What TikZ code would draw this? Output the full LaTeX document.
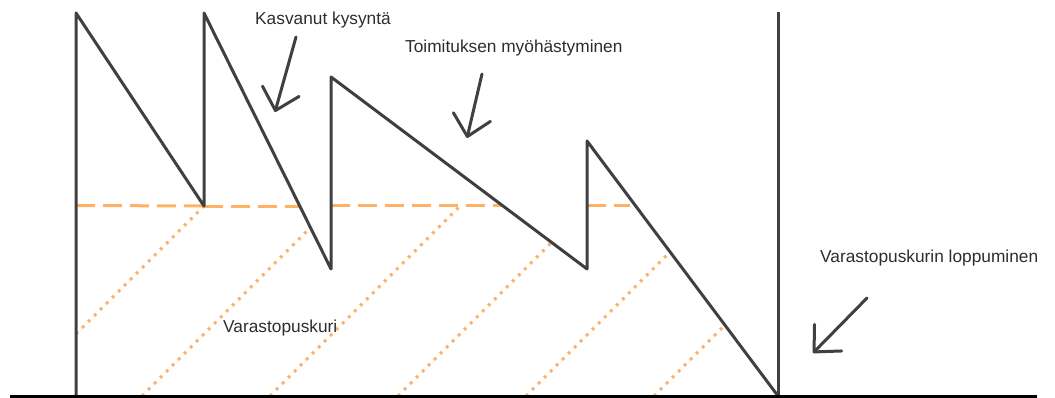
\documentclass[tikz,border=0pt]{standalone}
\usepackage{fontspec}
\setmainfont{Liberation Sans}
\usetikzlibrary{arrows.meta}
\definecolor{sawgray}{RGB}{64,64,64}
\definecolor{bufferorange}{RGB}{255,178,102}
\definecolor{labelgray}{RGB}{45,45,45}

\begin{document}
\begin{tikzpicture}[
  x=1pt, y=-1pt,
  saw/.style={draw=sawgray, line width=3pt, line join=round},
  level line/.style={draw=bufferorange, line width=3pt, dash pattern=on 19pt off 8pt},
  buffer fill/.style={draw=bufferorange, line width=3pt, dash pattern=on 3pt off 5.5pt},
  pointer/.style={draw=sawgray, line width=3pt, line cap=round, -{Straight Barb[length=20pt,width=38pt,round]}},
  every node/.style={font=\fontsize{17.3}{20}\selectfont, text=labelgray, inner sep=0pt, anchor=base west}
]
\useasboundingbox (0,0) rectangle (1055,398);

% sawtooth corners
\coordinate (s0) at (76,396);
\coordinate (t1) at (76,13);
\coordinate (b1) at (204,206);
\coordinate (t2) at (204,13);
\coordinate (b2) at (331,269);
\coordinate (t3) at (331,77);
\coordinate (b3) at (587,269);
\coordinate (t4) at (587,141);
\coordinate (e0) at (778,396);
\coordinate (e1) at (778,12);

% buffer level (dashed) and buffer hatching (dotted)
\draw[level line] (76,205.5) -- (b1);
\draw[level line] (204,207) -- (300,207);
\draw[level line] (331,205.5) -- (503,205.5);
\draw[level line] (587,205.5) -- (630,205.5);
\draw[buffer fill] (76,334) -- (b1);
\draw[buffer fill] (142,396) -- (310.4,227.6);
\draw[buffer fill] (270,396) -- (460,206);
\draw[buffer fill] (398,396) -- (551.6,242.4);
\draw[buffer fill] (526,396) -- (669.9,252.1);
\draw[buffer fill] (654,396) -- (724.5,325.5);

% stock level
\draw[saw] (s0) -- (t1) -- (b1) -- (t2) -- (b2) -- (t3) -- (b3) -- (t4) -- (e0);
\draw[saw] (e0) -- (e1);
\draw[line width=3pt, black] (10,396) -- (1037,396);

% labels
\node (demand) at (255,25) {Kasvanut kysyntä};
\node (delay) at (405,53) {Toimituksen myöhästyminen};
\node (buffer) at (223,332) {Varastopuskuri};
\node (runout) at (820,262) {Varastopuskurin loppuminen};

% pointers
\coordinate (demand from) at (296,37);
\coordinate (demand to) at (275,112);
\coordinate (delay from) at (482,74);
\coordinate (delay to) at (467,138);
\coordinate (runout from) at (867,298);
\coordinate (runout to) at (813,353);
\draw[pointer] (demand from) -- (demand to);
\draw[pointer] (delay from) -- (delay to);
\draw[pointer] (runout from) -- (runout to);
\end{tikzpicture}
\end{document}
